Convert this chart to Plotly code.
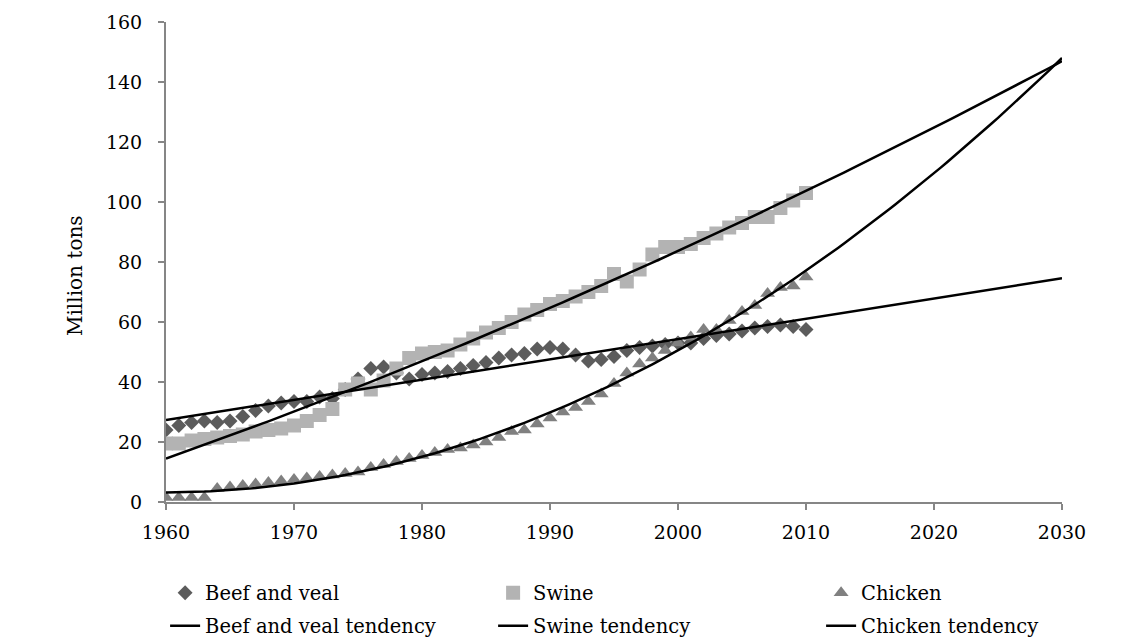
import numpy as np
import plotly.graph_objects as go

years = list(range(1960, 2011))

beef = [24.0, 25.5, 26.5, 27.0, 26.5, 27.0, 28.5, 30.5, 32.0, 33.0,
        33.5, 33.5, 35.0, 34.5, 37.5, 41.0, 44.5, 45.0, 43.0, 41.0,
        42.5, 43.0, 43.5, 44.5, 45.5, 46.5, 48.0, 49.0, 49.5, 51.0,
        51.5, 51.0, 49.0, 47.0, 47.5, 48.5, 50.5, 51.5, 52.0, 52.5,
        53.0, 53.0, 54.5, 55.5, 56.0, 57.0, 58.0, 58.5, 59.0, 58.5,
        57.5]

swine = [19.5, 19.5, 20.5, 21.0, 21.5, 22.0, 22.5, 23.5, 24.0, 24.5,
         25.5, 27.0, 29.0, 31.0, 37.5, 39.5, 37.5, 40.5, 44.5, 48.0,
         49.5, 50.0, 50.5, 52.5, 54.5, 56.5, 58.0, 60.0, 62.5, 64.0,
         66.0, 67.0, 68.5, 70.0, 72.0, 76.0, 73.5, 77.5, 82.5, 85.0,
         85.0, 86.0, 88.0, 89.5, 91.5, 93.0, 95.0, 95.0, 98.0, 100.5,
         103.0]

chicken = [1.5, 1.5, 1.5, 1.5, 4.5, 5.0, 5.5, 6.0, 6.5, 7.0,
           7.5, 8.0, 8.5, 9.0, 9.5, 10.0, 11.5, 12.5, 13.5, 14.5,
           15.5, 16.5, 17.5, 18.0, 19.0, 20.0, 21.5, 23.5, 24.0, 26.0,
           28.0, 30.0, 31.5, 33.5, 36.0, 39.5, 43.0, 46.0, 48.0, 50.5,
           53.0, 55.0, 57.5, 57.5, 60.5, 63.5, 65.5, 69.5, 71.5, 72.0,
           75.0]

trend_years = np.linspace(1960, 2030, 141)
x_ticks = [1960, 1970, 1980, 1990, 2000, 2010, 2020, 2030]
y_ticks = [0, 20, 40, 60, 80, 100, 120, 140, 160]

FONT = "DejaVu Serif"

def fit(values, deg):
    c = np.polyfit(years, values, deg)
    return np.polyval(c, trend_years)

fig = go.Figure()

fig.add_trace(go.Scatter(x=years, y=beef, mode="markers", name="Beef and veal",
                         marker=dict(symbol="diamond", size=11.5, color="#5c5c5c"),
                         legend="legend"))
fig.add_trace(go.Scatter(x=years, y=swine, mode="markers", name="Swine",
                         marker=dict(symbol="square", size=14, color="#b3b3b3"),
                         legend="legend"))
fig.add_trace(go.Scatter(x=years, y=chicken, mode="markers", name="Chicken",
                         marker=dict(symbol="triangle-up", size=13, color="#808080"),
                         legend="legend"))

fig.add_trace(go.Scatter(x=trend_years, y=fit(beef, 1), mode="lines",
                         name="Beef and veal tendency",
                         line=dict(color="black", width=2.5), legend="legend2"))
fig.add_trace(go.Scatter(x=trend_years, y=fit(swine, 2), mode="lines",
                         name="Swine tendency",
                         line=dict(color="black", width=2.5), legend="legend2"))
fig.add_trace(go.Scatter(x=trend_years, y=fit(chicken, 2), mode="lines",
                         name="Chicken tendency",
                         line=dict(color="black", width=2.5), legend="legend2"))

axis_common = dict(showgrid=False, zeroline=False, showline=True,
                   linecolor="#868686", linewidth=2, ticks="outside",
                   tickcolor="#868686", ticklen=6, tickwidth=1.5,
                   tickfont=dict(family=FONT, size=19, color="black"))

fig.update_xaxes(range=[1960, 2030], tickvals=x_ticks, ticklabelstandoff=6,
                 **axis_common)
fig.update_yaxes(range=[0, 160], tickvals=y_ticks, ticklabelstandoff=12,
                 **axis_common)

# plot area in figure pixels (page adds an 8px body margin)
L, R, T, B = 158, 1054, 14, 494
W, H = 1146, 640

fig.add_annotation(text="Million tons", textangle=-90, showarrow=False,
                   xref="paper", yref="paper",
                   x=(67 - L) / (R - L), y=(B - 268) / (B - T),
                   xanchor="center", yanchor="middle",
                   font=dict(family=FONT, size=20, color="black"))

legend_common = dict(orientation="h", xanchor="left", yanchor="middle",
                     x=-0.001, entrywidth=283, entrywidthmode="pixels",
                     font=dict(family=FONT, size=19.5, color="black"),
                     bgcolor="rgba(0,0,0,0)")

fig.update_layout(
    width=W, height=H,
    margin=dict(l=L, r=W - R, t=T, b=H - B, autoexpand=False),
    paper_bgcolor="white", plot_bgcolor="white",
    font=dict(family=FONT, size=19, color="black"),
    showlegend=True,
    legend=dict(y=(B - 585) / (B - T), **legend_common),
    legend2=dict(y=(B - 618) / (B - T), **legend_common),
)

fig.write_html("out.html")
